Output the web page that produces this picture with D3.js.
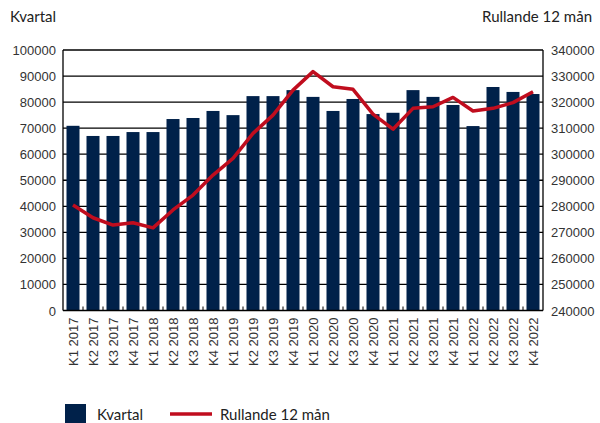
<!DOCTYPE html>
<html>
<head>
<style>
    body { margin: 0; background: #fff; }
    .tick-label { font-family: "Liberation Sans", Arial, sans-serif; font-size: 13px; fill: #333; }
    .title { font-family: Lato, "Noto Sans", sans-serif; font-size: 15px; fill: #222; }
</style>
<script src="https://d3js.org/d3.v7.min.js"></script>
</head>
<body>
<svg width="600" height="423"></svg>
<script>
    var quarters = ["K1 2017", "K2 2017", "K3 2017", "K4 2017",
        "K1 2018", "K2 2018", "K3 2018", "K4 2018",
        "K1 2019", "K2 2019", "K3 2019", "K4 2019",
        "K1 2020", "K2 2020", "K3 2020", "K4 2020",
        "K1 2021", "K2 2021", "K3 2021", "K4 2021",
        "K1 2022", "K2 2022", "K3 2022", "K4 2022"];

    var kvartal = [70900, 67000, 67000, 68500, 68500, 73500, 73900, 76600,
        75000, 82300, 82300, 84600, 82000, 76600, 81200, 75400,
        75900, 84600, 82000, 78900, 70800, 85800, 83900, 83100];

    var rullande = [280500, 275600, 272800, 273700, 271700, 278600, 284300, 292000,
        298400, 308000, 315000, 324600, 331700, 325900, 324900, 315400,
        309600, 317600, 318200, 321800, 316600, 317600, 319800, 324000];

    var leftTicks = d3.range(0, 100001, 10000);
    var rightTicks = d3.range(240000, 340001, 10000);

    var svg = d3.select("svg");
    var plotLeft = 63, plotRight = 543, plotTop = 50, plotBottom = 310.5;

    var x = d3.scaleBand().domain(quarters).range([plotLeft, plotRight]).paddingInner(0.35).paddingOuter(0.175);
    var band = d3.scaleBand().domain(quarters).range([plotLeft, plotRight]);
    var yL = d3.scaleLinear().domain([0, 100000]).range([plotBottom, plotTop]);
    var yR = d3.scaleLinear().domain([240000, 340000]).range([plotBottom, plotTop]);

    // gridlines
    svg.append("g").selectAll("line")
        .data(leftTicks.slice(1))
        .enter().append("line")
        .attr("x1", plotLeft).attr("x2", plotRight)
        .attr("y1", function (d) { return yL(d); })
        .attr("y2", function (d) { return yL(d); })
        .attr("stroke", "#000").attr("stroke-width", 1.3);

    // bars
    svg.append("g").selectAll("rect")
        .data(kvartal)
        .enter().append("rect")
        .attr("x", function (d, i) { return x(quarters[i]); })
        .attr("width", x.bandwidth())
        .attr("y", function (d) { return yL(d); })
        .attr("height", function (d) { return plotBottom - yL(d); })
        .attr("fill", "#00214a");

    // axis lines
    svg.append("line").attr("x1", plotLeft).attr("x2", plotLeft).attr("y1", plotTop).attr("y2", plotBottom)
        .attr("stroke", "#000").attr("stroke-width", 1.3);
    svg.append("line").attr("x1", plotRight).attr("x2", plotRight).attr("y1", plotTop).attr("y2", plotBottom)
        .attr("stroke", "#000").attr("stroke-width", 1.3);
    svg.append("line").attr("x1", plotLeft).attr("x2", plotRight).attr("y1", plotBottom).attr("y2", plotBottom)
        .attr("stroke", "#000").attr("stroke-width", 1.3);

    // small ticks between bands
    svg.append("g").selectAll("line")
        .data(quarters.slice(1))
        .enter().append("line")
        .attr("x1", function (d) { return band(d); })
        .attr("x2", function (d) { return band(d); })
        .attr("y1", plotBottom).attr("y2", plotBottom - 4)
        .attr("stroke", "#000").attr("stroke-width", 1);

    // line
    var line = d3.line()
        .x(function (d, i) { return x(quarters[i]) + x.bandwidth() / 2; })
        .y(function (d) { return yR(d); });
    svg.append("path")
        .datum(rullande)
        .attr("d", line)
        .attr("fill", "none")
        .attr("stroke", "#c00d1e")
        .attr("stroke-width", 3.5)
        .attr("stroke-linejoin", "round");

    // left tick labels
    svg.append("g").selectAll("text")
        .data(leftTicks)
        .enter().append("text")
        .attr("class", "tick-label")
        .attr("x", 56)
        .attr("y", function (d) { return yL(d) + 5; })
        .attr("text-anchor", "end")
        .text(function (d) { return d; });

    // right tick labels
    svg.append("g").selectAll("text")
        .data(rightTicks)
        .enter().append("text")
        .attr("class", "tick-label")
        .attr("x", 551)
        .attr("y", function (d) { return yR(d) + 5; })
        .text(function (d) { return d; });

    // x labels
    svg.append("g").selectAll("text")
        .data(quarters)
        .enter().append("text")
        .attr("class", "tick-label")
        .attr("transform", function (d) {
            return "translate(" + (x(d) + x.bandwidth() / 2 + 5) + "," + (plotBottom + 7) + ") rotate(-90)";
        })
        .attr("text-anchor", "end")
        .text(function (d) { return d; });

    // titles
    svg.append("text").attr("class", "title").attr("x", 10).attr("y", 22).text("Kvartal");
    svg.append("text").attr("class", "title").attr("x", 592).attr("y", 22)
        .attr("text-anchor", "end").text("Rullande 12 mån");

    // legend
    svg.append("rect").attr("x", 65).attr("y", 404).attr("width", 21).attr("height", 20).attr("fill", "#00214a");
    svg.append("text").attr("class", "title").attr("x", 97).attr("y", 420).text("Kvartal");
    svg.append("line").attr("x1", 170).attr("x2", 212).attr("y1", 414).attr("y2", 414)
        .attr("stroke", "#c00d1e").attr("stroke-width", 3.5);
    svg.append("text").attr("class", "title").attr("x", 220).attr("y", 420).text("Rullande 12 mån");
</script>
</body>
</html>
